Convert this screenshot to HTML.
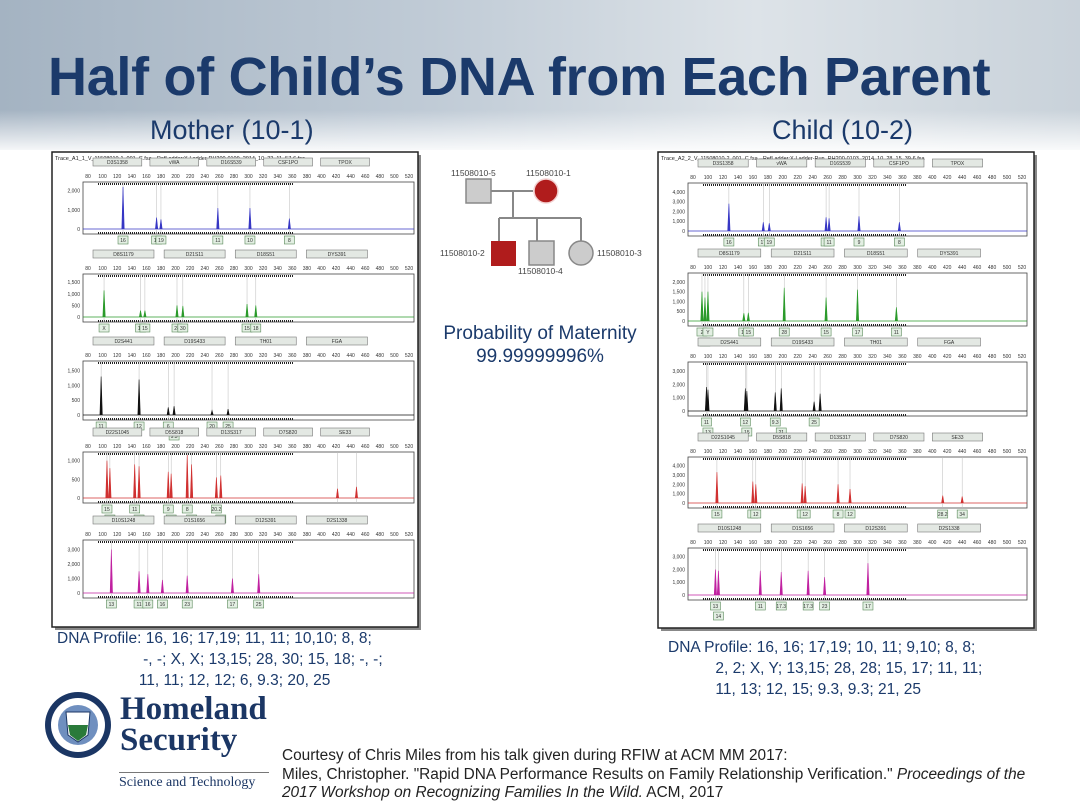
<!DOCTYPE html>
<html><head><meta charset="utf-8">
<style>
html,body{margin:0;padding:0;width:1080px;height:810px;overflow:hidden;background:#fff;font-family:"Liberation Sans",sans-serif;}
#bg{position:absolute;left:0;top:0;width:1080px;height:150px;background:linear-gradient(90deg,#a4b3c2 0%,#c0cbd6 40%,#dde3e8 70%,#c9d2da 100%);}
#bg2{position:absolute;left:0;top:110px;width:1080px;height:45px;background:linear-gradient(180deg,rgba(255,255,255,0) 0%,#fff 100%);}
.t{position:absolute;color:#1b3a6b;white-space:nowrap;}
</style></head>
<body>
<div id="bg"></div>
<div id="bg2"></div>
<div class="t" style="left:48px;top:46px;font-size:54px;font-weight:bold;letter-spacing:-0.3px;">Half of Child’s DNA from Each Parent</div>
<div class="t" style="left:150px;top:115px;font-size:27px;">Mother (10-1)</div>
<div class="t" style="left:772px;top:115px;font-size:27px;">Child (10-2)</div>

<svg id="main" width="1080" height="810" style="position:absolute;left:0;top:0"></svg>

<div class="t" style="left:430px;top:322px;width:220px;text-align:center;font-size:19px;line-height:23px;">Probability of Maternity<br>99.99999996%</div>

<div class="t" style="left:57px;top:628px;font-size:15.5px;line-height:21px;">DNA Profile: 16, 16; 17,19; 11, 11; 10,10; 8, 8;<br>&nbsp;&nbsp;&nbsp;&nbsp;&nbsp;&nbsp;&nbsp;&nbsp;&nbsp;&nbsp;&nbsp;&nbsp;&nbsp;&nbsp;&nbsp;&nbsp;&nbsp;&nbsp;&nbsp;&nbsp;-, -; X, X; 13,15; 28, 30; 15, 18; -, -;<br>&nbsp;&nbsp;&nbsp;&nbsp;&nbsp;&nbsp;&nbsp;&nbsp;&nbsp;&nbsp;&nbsp;&nbsp;&nbsp;&nbsp;&nbsp;&nbsp;&nbsp;&nbsp;&nbsp;11, 11; 12, 12; 6, 9.3; 20, 25</div>
<div class="t" style="left:668px;top:637px;font-size:15.5px;line-height:21px;">DNA Profile: 16, 16; 17,19; 10, 11; 9,10; 8, 8;<br>&nbsp;&nbsp;&nbsp;&nbsp;&nbsp;&nbsp;&nbsp;&nbsp;&nbsp;&nbsp;&nbsp;2, 2; X, Y; 13,15; 28, 28; 15, 17; 11, 11;<br>&nbsp;&nbsp;&nbsp;&nbsp;&nbsp;&nbsp;&nbsp;&nbsp;&nbsp;&nbsp;&nbsp;11, 13; 12, 15; 9.3, 9.3; 21, 25</div>

<div class="t" style="left:120px;top:694px;font-family:'Liberation Serif',serif;font-weight:bold;font-size:33px;line-height:31px;color:#1b3664;">Homeland<br>Security</div>
<div class="t" style="left:119px;top:772px;font-family:'Liberation Serif',serif;font-size:14px;color:#1b3664;border-top:1px solid #777;padding-top:2px;width:150px;">Science and Technology</div>
<div class="t" style="left:282px;top:747px;font-size:15.4px;line-height:18.5px;color:#222;">Courtesy of Chris Miles from his talk given during RFIW at ACM MM 2017:<br>Miles, Christopher. "Rapid DNA Performance Results on Family Relationship Verification." <i>Proceedings of the</i><br><i>2017 Workshop on Recognizing Families In the Wild.</i> ACM, 2017</div>

<script>
// ---- data ----
const bpTicks=[80,100,120,140,160,180,200,220,240,260,280,300,320,340,360,380,400,420,440,460,480,500,520];
const L1bp=[128,174,180,258,302,356]; const L1h=[2200,600,500,1100,1100,550]; const L1al=['16','17','19','11','10','8']; const L1y=[0,1000,2000];
const L2bp=[102,152,158,202,210,298,310]; const L2h=[1150,280,280,500,480,560,500]; const L2al=['X','13','15','28','30','15','18']; const L2y=[0,500,1000,1500];
const L3bp=[98,150,190,198,250,272]; const L3h=[1300,1200,260,300,150,200]; const L3al=['11','12','6','9.3','20','25']; const L3y=[0,500,1000,1500];
const L4bp=[106,110,144,150,190,194,216,222,256,262,422,448]; const L4h=[1000,800,900,850,700,650,1150,900,550,600,250,300]; const L4al=['15','17','11','12','9','11','8','12','20.2','24']; const L4y=[0,500,1000];
const L5bp=[112,150,162,182,216,278,314]; const L5h=[3000,1500,1300,900,1200,1000,1300]; const L5al=['13','11','16','16','23','17','25']; const L5y=[0,1000,2000,3000];
const R1bp=[128,174,182,258,262,302,356]; const R1h=[2800,900,800,1400,1300,1500,900]; const R1al=['16','17','19','10','11','9','8']; const R1y=[0,1000,2000,3000,4000];
const R2bp=[92,96,100,148,154,202,258,300,352]; const R2h=[1500,1200,1500,400,420,1700,1200,1600,700]; const R2al=['2','X','Y','13','15','28','15','17','11']; const R2y=[0,500,1000,1500,2000];
const R3bp=[98,100,150,152,190,198,242,250]; const R3h=[1800,1600,1700,1500,1400,1700,700,1300]; const R3al=['11','13','12','15','9.3','21','25']; const R3y=[0,1000,2000,3000];
const R4bp=[112,160,164,226,230,274,290,414,440]; const R4h=[3300,2300,2000,2100,1800,2000,1500,800,700]; const R4al=['15','11','12','11','12','8','12','28.2','34']; const R4y=[0,1000,2000,3000,4000];
const R5bp=[110,114,170,198,234,256,314]; const R5h=[2000,1900,1900,1800,1900,1400,2500]; const R5al=['13','14','11','17.3','17.3','23','17']; const R5y=[0,1000,2000,3000];
const lociL=[['D3S1358','vWA','D16S539','CSF1PO','TPOX'],['D8S1179','D21S11','D18S51','DYS391'],['D2S441','D19S433','TH01','FGA'],['D22S1045','D5S818','D13S317','D7S820','SE33'],['D10S1248','D1S1656','D12S391','D2S1338']];

const NS='http://www.w3.org/2000/svg';
const svg=document.getElementById('main');
function mk(tag,attrs,parent,txt){const e=document.createElementNS(NS,tag);for(const k in attrs)e.setAttribute(k,attrs[k]);if(txt!==undefined)e.textContent=txt;(parent||svg).appendChild(e);return e;}

function panel(x,y,w,h,title,nm){
  const g=mk('g',{});
  
  
  mk('rect',{x:x+3,y:y+3,width:w,height:h,fill:'#888'},g);
  mk('rect',{x:x,y:y,width:w,height:h,fill:'#fff',stroke:'#222','stroke-width':1.5},g);
  mk('text',{x:x+3,y:y+8,'font-size':5.5,fill:'#222','font-family':'Liberation Sans'},g,title);
  return g;
}
const PL=panel(52,152,366,475,'Trace_A1_1_V_11508010-1_001_C.fsa --RefLadder:X-Ladder-RH200-0109_2014_10_22_11_57-6.fsa','mother-trace-panel');
const PR=panel(658,152,376,476,'Trace_A2_2_V_11508010-2_001_C.fsa --RefLadder:X-Ladder-Run_RH200-0103_2014_10_28_15_39-6.fsa','child-trace-panel');

function chart(parent,nm,x0,x1,top,bot,color,bp,h,al,yt,loci){
  const g=mk('g',{},parent);
  
  
  const ymax=yt[yt.length-1]*1.15;
  const base=bot-5;
  const sx=v=>x0+5+(v-80)/(520-80)*(x1-x0-10);
  const sy=v=>base-v/ymax*(base-top-3);
  const lw=(x1-x0-60)/loci.length;
  loci.forEach((l,i)=>{const lx=x0+10+i*lw*1.05;mk('rect',{x:lx,y:top-24,width:lw*0.9,height:8,fill:'#e3e8e3',stroke:'#777','stroke-width':0.6},g);mk('text',{x:lx+lw*0.45,y:top-18,'font-size':5,'text-anchor':'middle',fill:'#333'},g,l);});
  bpTicks.forEach(t=>mk('text',{x:sx(t),y:top-4,'font-size':5,'text-anchor':'middle',fill:'#333'},g,String(t)));
  mk('rect',{x:x0,y:top,width:x1-x0,height:bot-top,fill:'#fff',stroke:'#444','stroke-width':0.8},g);
  mk('line',{x1:x0+15,x2:x1-120,y1:top+2,y2:top+2,stroke:'#222','stroke-width':2,'stroke-dasharray':'1 1'},g);
  mk('line',{x1:x0+15,x2:x1-120,y1:bot-1,y2:bot-1,stroke:'#222','stroke-width':2,'stroke-dasharray':'1 1'},g);
  yt.forEach(v=>mk('text',{x:x0-3,y:sy(v)+2,'font-size':5,'text-anchor':'end',fill:'#333'},g,v.toLocaleString('en-US')));
  mk('line',{x1:x0,x2:x1,y1:base,y2:base,stroke:color,'stroke-width':0.8},g);
  bp.forEach((b,i)=>{
    const px=sx(b);
    mk('line',{x1:px,x2:px,y1:top,y2:bot,stroke:'#bbb','stroke-width':0.5},g);
    const p=mk('path',{d:`M${px-1.2},${base} L${px},${sy(h[i])} L${px+1.2},${base}`,fill:color,stroke:color,'stroke-width':0.6},g);
    
    
  });
  al.forEach((a,i)=>{
    const b=bp[Math.min(i,bp.length-1)];const px=sx(b);const row=i%2&&Math.abs(sx(bp[Math.min(i,bp.length-1)])-sx(bp[Math.max(0,i-1)]))<12?1:0;
    const yy=bot+2+row*10;
    mk('rect',{x:px-5,y:yy,width:10,height:8,fill:'#e3efe3',stroke:'#5a8a5a','stroke-width':0.6},g);
    mk('text',{x:px,y:yy+6,'font-size':5,'text-anchor':'middle',fill:'#333'},g,a);
  });
}
const Lx0=83,Lx1=414,Rx0=688,Rx1=1027;
chart(PL,'mother-blue-dye',Lx0,Lx1,182,234,'#3636c4',L1bp,L1h,L1al,L1y,lociL[0]);
chart(PL,'mother-green-dye',Lx0,Lx1,274,322,'#2a9a2a',L2bp,L2h,L2al,L2y,lociL[1]);
chart(PL,'mother-black-dye',Lx0,Lx1,361,420,'#111',L3bp,L3h,L3al,L3y,lociL[2]);
chart(PL,'mother-red-dye',Lx0,Lx1,452,503,'#d03030',L4bp,L4h,L4al,L4y,lociL[3]);
chart(PL,'mother-magenta-dye',Lx0,Lx1,540,598,'#c020a0',L5bp,L5h,L5al,L5y,lociL[4]);
chart(PR,'child-blue-dye',Rx0,Rx1,183,236,'#3636c4',R1bp,R1h,R1al,R1y,lociL[0]);
chart(PR,'child-green-dye',Rx0,Rx1,273,326,'#2a9a2a',R2bp,R2h,R2al,R2y,lociL[1]);
chart(PR,'child-black-dye',Rx0,Rx1,362,416,'#111',R3bp,R3h,R3al,R3y,lociL[2]);
chart(PR,'child-red-dye',Rx0,Rx1,457,508,'#d03030',R4bp,R4h,R4al,R4y,lociL[3]);
chart(PR,'child-magenta-dye',Rx0,Rx1,548,600,'#c020a0',R5bp,R5h,R5al,R5y,lociL[4]);

const pg=mk('g',{});


const gs={stroke:'#888','stroke-width':2};
mk('line',Object.assign({x1:472,y1:191,x2:533,y2:191},gs),pg);
mk('line',Object.assign({x1:513,y1:191,x2:513,y2:218},gs),pg);
mk('line',Object.assign({x1:499,y1:218,x2:581,y2:218},gs),pg);
[499,537,581].forEach(x=>mk('line',Object.assign({x1:x,y1:218,x2:x,y2:242},gs),pg));
mk('rect',{x:466,y:179,width:25,height:24,fill:'#ccc',stroke:'#888','stroke-width':1.5},pg);
mk('circle',{cx:546,cy:191,r:12,fill:'#b01c1c',stroke:'#f3d0d0','stroke-width':1.5},pg);
mk('rect',{x:491,y:241,width:25,height:25,fill:'#b01c1c'},pg);
mk('rect',{x:529,y:241,width:25,height:24,fill:'#ccc',stroke:'#888','stroke-width':1.5},pg);
mk('circle',{cx:581,cy:253,r:12,fill:'#ccc',stroke:'#888','stroke-width':1.5},pg);
const lbl={'font-size':8.5,fill:'#444'};
mk('text',Object.assign({x:451,y:176},lbl),pg,'11508010-5');
mk('text',Object.assign({x:526,y:176},lbl),pg,'11508010-1');
mk('text',Object.assign({x:440,y:256},lbl),pg,'11508010-2');
mk('text',Object.assign({x:597,y:256},lbl),pg,'11508010-3');
mk('text',Object.assign({x:518,y:274},lbl),pg,'11508010-4');

const sg=mk('g',{});


mk('circle',{cx:78,cy:725,r:33,fill:'#1b3664'},sg);
mk('circle',{cx:78,cy:725,r:27,fill:'#fff'},sg);
mk('circle',{cx:78,cy:725,r:20,fill:'#6f8fbf'},sg);
mk('path',{d:'M66,712 L90,712 L88,735 L78,742 L68,735 Z',fill:'#fff',stroke:'#1b3664'},sg);
mk('path',{d:'M68,725 L88,725 L86,735 L78,741 L70,735 Z',fill:'#2a7a3a'},sg);
</script>
</body></html>
